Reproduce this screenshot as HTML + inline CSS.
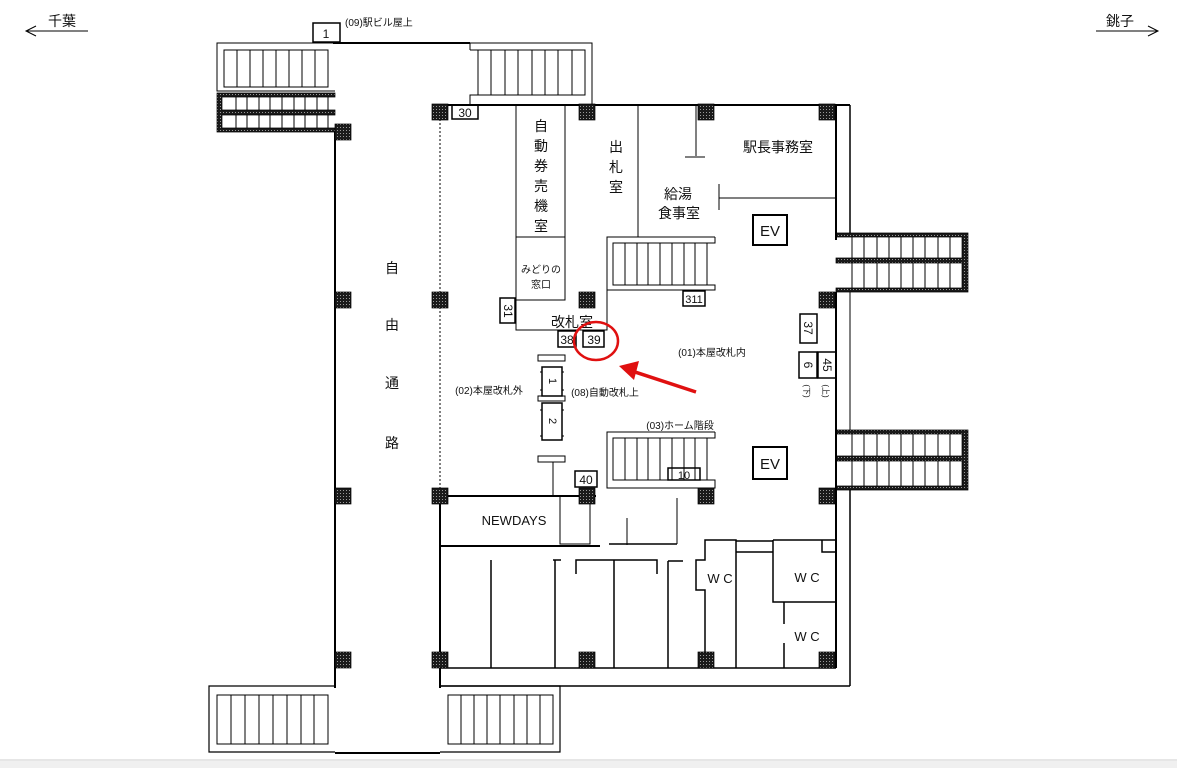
<!DOCTYPE html>
<html><head><meta charset="utf-8"><style>
html,body{margin:0;padding:0;background:#fff}
svg{display:block}
text{font-family:"Liberation Sans","Noto Sans CJK JP",sans-serif;fill:#111}
</style></head><body>
<svg width="1177" height="768" viewBox="0 0 1177 768" xmlns="http://www.w3.org/2000/svg">
<defs>
<pattern id="h" width="3" height="3" patternUnits="userSpaceOnUse">
<rect width="3" height="3" fill="#1a1a1a"/><rect x="1" y="1" width="1" height="1" fill="#999"/>
</pattern>
</defs>
<rect x="0" y="761" width="1177" height="7" fill="#f0f0f0"/>
<line x1="0" y1="760" x2="1177" y2="760" stroke="#ccc"/>

<text x="48" y="26" font-size="14">千葉</text>
<line x1="26" y1="31" x2="88" y2="31" stroke="#000"/>
<polyline points="36,26 26,31 36,36" fill="none" stroke="#000"/>
<text x="1106" y="26" font-size="14">銚子</text>
<line x1="1096" y1="31" x2="1158" y2="31" stroke="#000"/>
<polyline points="1148,26 1158,31 1148,36" fill="none" stroke="#000"/>

<g fill="none" stroke="#000" stroke-width="1">
<polyline points="335,43 217,43 217,91 335,91"/>
<rect x="224" y="50" width="104" height="37"/>
<path d="M237 50V87M250 50V87M263 50V87M276 50V87M289 50V87M302 50V87M315 50V87"/>
<polyline points="470,50 470,43 592,43 592,105"/>
<line x1="470" y1="50" x2="478" y2="50"/>
<rect x="478" y="50" width="107" height="45"/>
<path d="M491 50V95M505 50V95M518 50V95M532 50V95M545 50V95M558 50V95M572 50V95"/>
<polyline points="470,105 470,95 478,95"/>
</g>
<line x1="333" y1="43" x2="470" y2="43" stroke="#000" stroke-width="2"/>
<path d="M217 93H335V97H222V110H335V115H222V128H335V132H217Z" fill="url(#h)" stroke="#000" stroke-width="0.7"/>
<g stroke="#000" fill="none" stroke-width="1">
<path d="M236 97V110M247 97V110M259 97V110M270 97V110M282 97V110M294 97V110M305 97V110M317 97V110M328 97V110"/>
<path d="M236 115V128M247 115V128M259 115V128M270 115V128M282 115V128M294 115V128M305 115V128M317 115V128M328 115V128"/>
</g>
<g>
<path d="M836 233H968V292H836V288H962V263H836V258H962V237H836Z" fill="url(#h)" stroke="#000" stroke-width="0.7"/>
<path d="M836 430H968V490H836V486H962V461H836V456H962V434H836Z" fill="url(#h)" stroke="#000" stroke-width="0.7"/>
<g stroke="#000" stroke-width="1">
<path d="M852 237V258M864 237V258M877 237V258M889 237V258M901 237V258M913 237V258M925 237V258M938 237V258M950 237V258"/>
<path d="M852 263V288M864 263V288M877 263V288M889 263V288M901 263V288M913 263V288M925 263V288M938 263V288M950 263V288"/>
<path d="M852 434V456M864 434V456M877 434V456M889 434V456M901 434V456M913 434V456M925 434V456M938 434V456M950 434V456"/>
<path d="M852 461V486M864 461V486M877 461V486M889 461V486M901 461V486M913 461V486M925 461V486M938 461V486M950 461V486"/>
</g>
</g>

<g stroke="#000" fill="none">
<line x1="335" y1="132" x2="335" y2="688" stroke-width="2"/>
<line x1="440" y1="115" x2="440" y2="496" stroke-width="1" stroke-dasharray="2,2"/>
<line x1="440" y1="105" x2="850" y2="105" stroke-width="2"/>
<line x1="850" y1="105" x2="850" y2="233" stroke-width="1.5"/>
<line x1="836" y1="105" x2="836" y2="240" stroke-width="2"/>
<line x1="836" y1="292" x2="836" y2="490" stroke-width="2"/>
<line x1="850" y1="292" x2="850" y2="430" stroke-width="1"/>
<line x1="836" y1="490" x2="836" y2="668" stroke-width="2"/>
<line x1="850" y1="490" x2="850" y2="686" stroke-width="1.5"/>
<line x1="440" y1="686" x2="850" y2="686" stroke-width="1.5"/>
<line x1="440" y1="668" x2="836" y2="668" stroke-width="1.5"/>
<line x1="440" y1="496" x2="440" y2="688" stroke-width="2"/>
<polyline points="335,686 209,686 209,752 335,752" stroke-width="1.2"/>
<rect x="217" y="695" width="111" height="49"/>
<path d="M231 695V744M245 695V744M259 695V744M273 695V744M287 695V744M301 695V744M314 695V744"/>
<polyline points="440,686 560,686 560,752 440,752" stroke-width="1.2"/>
<rect x="448" y="695" width="105" height="49"/>
<path d="M461 695V744M474 695V744M487 695V744M500 695V744M514 695V744M527 695V744M540 695V744"/>
<line x1="335" y1="753" x2="440" y2="753" stroke-width="2"/>

<rect x="516" y="105" width="49" height="195"/>
<line x1="516" y1="237" x2="565" y2="237"/>
<polyline points="516,300 516,330 607,330 607,237"/>
<line x1="638" y1="105" x2="638" y2="237"/>
<line x1="696" y1="105" x2="696" y2="156"/>
<line x1="685" y1="157" x2="705" y2="157"/>
<line x1="719" y1="198" x2="836" y2="198"/>
<line x1="719" y1="184" x2="719" y2="210"/>
<polyline points="715,237 607,237 607,290 715,290 715,285 613,285 613,243 715,243 715,237"/>
<path d="M625 243V285M637 243V285M648 243V285M660 243V285M672 243V285M684 243V285M695 243V285M707 243V285"/>
<polyline points="715,432 607,432 607,488 715,488 715,480 613,480 613,438 715,438 715,432"/>
<path d="M625 438V480M637 438V480M648 438V480M660 438V480M672 438V480M684 438V480M695 438V480M707 438V480"/>
<rect x="753" y="215" width="34" height="30" stroke-width="2"/>
<rect x="753" y="447" width="34" height="32" stroke-width="2"/>
<rect x="538" y="355" width="27" height="6"/>
<rect x="542" y="367" width="20" height="29" stroke-width="1.5"/>
<rect x="538" y="396" width="27" height="5"/>
<rect x="542" y="403" width="20" height="37" stroke-width="1.5"/>
<rect x="538" y="456" width="27" height="6"/>
<path d="M540 372h2M540 390h2M562 372h2M562 390h2M540 410h2M540 436h2M562 410h2M562 436h2"/>
<line x1="553" y1="462" x2="553" y2="496"/>
<line x1="440" y1="496" x2="596" y2="496" stroke-width="2"/>
<line x1="440" y1="546" x2="600" y2="546" stroke-width="2"/>
<polyline points="560,496 560,544 590,544 590,500"/>
<line x1="627" y1="518" x2="627" y2="545"/>
<line x1="609" y1="544" x2="677" y2="544" stroke-width="1.5"/>
<line x1="677" y1="498" x2="677" y2="544"/>
<g stroke-width="1.5">
<line x1="491" y1="560" x2="491" y2="668"/>
<line x1="555" y1="560" x2="555" y2="668"/>
<line x1="553" y1="560" x2="561" y2="560"/>
<polyline points="576,574 576,560 657,560 657,574"/>
<line x1="614" y1="560" x2="614" y2="668"/>
<line x1="668" y1="561" x2="668" y2="668"/>
<line x1="668" y1="561" x2="683" y2="561"/>
<polyline points="705,668 705,590 696,590 696,560 705,560 705,540 736,540 736,668"/>
<path d="M736 541H773M736 552H773"/>
<polyline points="773,540 836,540"/>
<polyline points="773,540 773,602 836,602"/>
<polyline points="822,540 822,552 836,552"/>
<line x1="784" y1="602" x2="784" y2="624"/>
<line x1="784" y1="643" x2="784" y2="668"/>
</g>
<rect x="313" y="23" width="27" height="19" stroke-width="1.5"/>
<rect x="452" y="105" width="26" height="14" stroke-width="1.5"/>
<rect x="500" y="298" width="15" height="25" stroke-width="1.5"/>
<rect x="558" y="331" width="18" height="16" stroke-width="1.5"/>
<rect x="583" y="331" width="21" height="16" stroke-width="1.5"/>
<rect x="683" y="291" width="22" height="15" stroke-width="1.5"/>
<rect x="668" y="468" width="32" height="12" stroke-width="1.5"/>
<rect x="575" y="471" width="22" height="16" stroke-width="1.5"/>
<rect x="800" y="314" width="17" height="29" stroke-width="1.5"/>
<rect x="799" y="352" width="18" height="26" stroke-width="1.5"/>
<rect x="818" y="352" width="18" height="26" stroke-width="1.5"/>
</g>

<g fill="url(#h)" stroke="#000" stroke-width="0.7">
<rect x="432" y="104" width="16" height="16"/><rect x="335" y="124" width="16" height="16"/>
<rect x="579" y="104" width="16" height="16"/><rect x="698" y="104" width="16" height="16"/><rect x="819" y="104" width="16" height="16"/>
<rect x="335" y="292" width="16" height="16"/><rect x="432" y="292" width="16" height="16"/><rect x="579" y="292" width="16" height="16"/><rect x="819" y="292" width="16" height="16"/>
<rect x="335" y="488" width="16" height="16"/><rect x="432" y="488" width="16" height="16"/><rect x="579" y="488" width="16" height="16"/><rect x="698" y="488" width="16" height="16"/><rect x="819" y="488" width="16" height="16"/>
<rect x="335" y="652" width="16" height="16"/><rect x="432" y="652" width="16" height="16"/><rect x="579" y="652" width="16" height="16"/><rect x="698" y="652" width="16" height="16"/><rect x="819" y="652" width="16" height="16"/>
</g>

<g font-size="12">
<text x="326" y="38" text-anchor="middle">1</text>
<text x="345" y="26" font-size="10">(09)駅ビル屋上</text>
<text x="465" y="117" text-anchor="middle">30</text>
</g>
<g font-size="14" text-anchor="middle">
<text x="392" y="273">自</text><text x="392" y="330">由</text><text x="392" y="388">通</text><text x="392" y="448">路</text>
<text x="541" y="131">自</text><text x="541" y="151">動</text><text x="541" y="171">券</text><text x="541" y="191">売</text><text x="541" y="211">機</text><text x="541" y="231">室</text>
<text x="616" y="152">出</text><text x="616" y="172">札</text><text x="616" y="192">室</text>
<text x="678" y="199">給湯</text><text x="679" y="218">食事室</text>
<text x="778" y="152">駅長事務室</text>
<text x="572" y="327">改札室</text>
<text x="770" y="236" font-size="15">EV</text>
<text x="770" y="469" font-size="15">EV</text>
<text x="514" y="525" font-size="13">NEWDAYS</text>
<text x="720" y="583" font-size="13">W C</text>
<text x="807" y="582" font-size="13">W C</text>
<text x="807" y="641" font-size="13">W C</text>
</g>
<g font-size="10" text-anchor="middle">
<text x="541" y="273">みどりの</text><text x="541" y="288">窓口</text>
<text x="567" y="344" font-size="12">38</text>
<text x="594" y="344" font-size="12">39</text>
<text x="694" y="303" font-size="11">311</text>
<text x="684" y="479" font-size="11">10</text>
<text x="586" y="484" font-size="12">40</text>
<text x="712" y="356">(01)本屋改札内</text>
<text x="489" y="394">(02)本屋改札外</text>
<text x="605" y="396">(08)自動改札上</text>
<text x="680" y="429">(03)ホーム階段</text>
</g>
<g font-size="12" text-anchor="middle">
<text transform="translate(504,311) rotate(90)">31</text>
<text transform="translate(804,328) rotate(90)">37</text>
<text transform="translate(804,365) rotate(90)">6</text>
<text transform="translate(823,365) rotate(90)">45</text>
<text transform="translate(549,381) rotate(90)" font-size="11">1</text>
<text transform="translate(549,421) rotate(90)" font-size="11">2</text>
<text transform="translate(804,391) rotate(90)" font-size="8" fill="#666">(下)</text>
<text transform="translate(823,391) rotate(90)" font-size="8" fill="#666">(上)</text>
</g>

<ellipse cx="596" cy="341" rx="22" ry="19" fill="none" stroke="#e01010" stroke-width="2.5"/>
<line x1="696" y1="392" x2="632" y2="371" stroke="#e01010" stroke-width="3.5"/>
<polygon points="619,366 639,361 634,380" fill="#e01010"/>
</svg>
</body></html>
